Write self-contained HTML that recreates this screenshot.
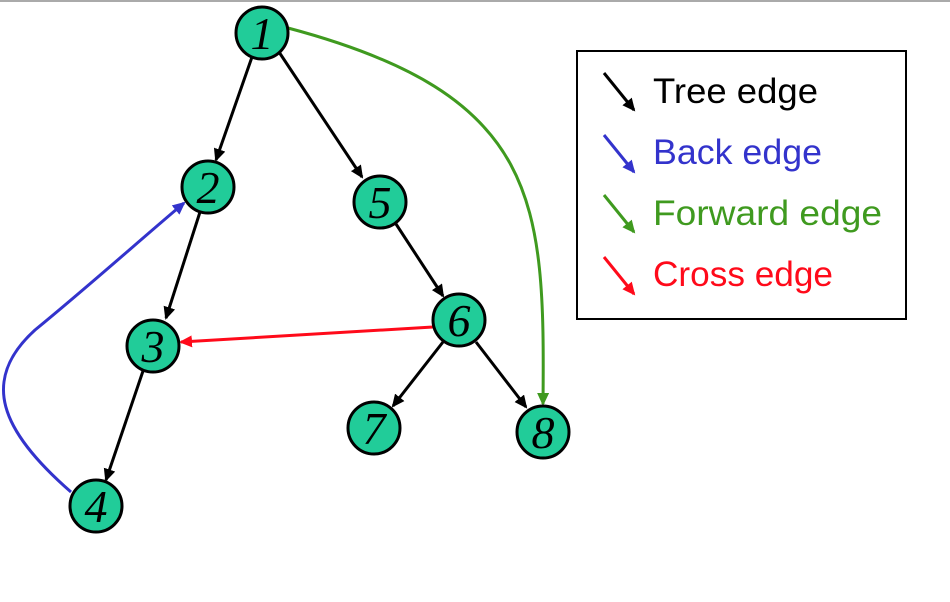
<!DOCTYPE html>
<html><head><meta charset="utf-8"><style>
html,body{margin:0;padding:0;background:#fff;width:950px;height:602px;overflow:hidden}
</style></head><body>
<svg width="950" height="602" viewBox="0 0 950 602" xmlns="http://www.w3.org/2000/svg">
<defs>
<marker id="ak" markerWidth="14" markerHeight="14" refX="11" refY="6" orient="auto" markerUnits="userSpaceOnUse"><path d="M0,0 L13,6 L0,12 z" fill="#000"/></marker>
<marker id="ab" markerWidth="14" markerHeight="14" refX="11" refY="6" orient="auto" markerUnits="userSpaceOnUse"><path d="M0,0 L13,6 L0,12 z" fill="#3333cc"/></marker>
<marker id="ag" markerWidth="14" markerHeight="14" refX="11" refY="6" orient="auto" markerUnits="userSpaceOnUse"><path d="M0,0 L13,6 L0,12 z" fill="#3f9a1f"/></marker>
<marker id="ar" markerWidth="14" markerHeight="14" refX="11" refY="6" orient="auto" markerUnits="userSpaceOnUse"><path d="M0,0 L13,6 L0,12 z" fill="#ff0a1a"/></marker>
</defs>
<line x1="0" y1="1" x2="950" y2="1" stroke="#aaa" stroke-width="2"/>
<g stroke="#000" stroke-width="3" fill="none">
<line x1="252" y1="57" x2="216" y2="160" marker-end="url(#ak)"/>
<line x1="279" y1="52" x2="362" y2="177" marker-end="url(#ak)"/>
<line x1="200" y1="212" x2="166" y2="318" marker-end="url(#ak)"/>
<line x1="396" y1="224" x2="443" y2="296" marker-end="url(#ak)"/>
<line x1="143" y1="371" x2="106" y2="480" marker-end="url(#ak)"/>
<line x1="443" y1="342" x2="393" y2="406" marker-end="url(#ak)"/>
<line x1="476" y1="342" x2="526" y2="407" marker-end="url(#ak)"/>
</g>
<path d="M288,28 C540,95 545,200 543,404" stroke="#3f9a1f" stroke-width="3" fill="none" marker-end="url(#ag)"/>
<path d="M71,492 C0,430 -20,380 35,330 C90,285 140,240 184,203" stroke="#3333cc" stroke-width="3" fill="none" marker-end="url(#ab)"/>
<line x1="433" y1="327" x2="181" y2="342" stroke="#ff0a1a" stroke-width="3" marker-end="url(#ar)"/>
<g fill="#21cc99" stroke="#000" stroke-width="3">
<circle cx="262" cy="33" r="26"/><circle cx="208" cy="187" r="26"/><circle cx="380" cy="202" r="26"/>
<circle cx="153" cy="346" r="26"/><circle cx="459" cy="320" r="26"/><circle cx="374" cy="428" r="26"/>
<circle cx="543" cy="432" r="26"/><circle cx="96" cy="506" r="26"/>
</g>
<g font-family="Liberation Serif, serif" font-style="italic" font-size="46" text-anchor="middle" fill="#000">
<text x="262" y="49">1</text><text x="208" y="203">2</text><text x="380" y="218">5</text>
<text x="153" y="362">3</text><text x="459" y="336">6</text><text x="374" y="444">7</text>
<text x="543" y="448">8</text><text x="96" y="522">4</text>
</g>
<rect x="577" y="51" width="329" height="268" fill="#fff" stroke="#000" stroke-width="2"/>
<line x1="604" y1="73" x2="634" y2="110" stroke="#000" stroke-width="3" marker-end="url(#ak)"/>
<line x1="604" y1="135" x2="634" y2="172" stroke="#3333cc" stroke-width="3" marker-end="url(#ab)"/>
<line x1="604" y1="195" x2="634" y2="232" stroke="#3f9a1f" stroke-width="3" marker-end="url(#ag)"/>
<line x1="604" y1="257" x2="634" y2="294" stroke="#ff0a1a" stroke-width="3" marker-end="url(#ar)"/>
<g font-family="Liberation Sans, DejaVu Sans, sans-serif" font-size="35" lengthAdjust="spacingAndGlyphs">
<text x="653" y="103" fill="#000" textLength="165" lengthAdjust="spacingAndGlyphs">Tree edge</text>
<text x="653" y="164" fill="#3333cc" textLength="169" lengthAdjust="spacingAndGlyphs">Back edge</text>
<text x="653" y="225" fill="#3f9a1f" textLength="229" lengthAdjust="spacingAndGlyphs">Forward edge</text>
<text x="653" y="286" fill="#ff0a1a" textLength="180" lengthAdjust="spacingAndGlyphs">Cross edge</text>
</g>
</svg>
</body></html>
